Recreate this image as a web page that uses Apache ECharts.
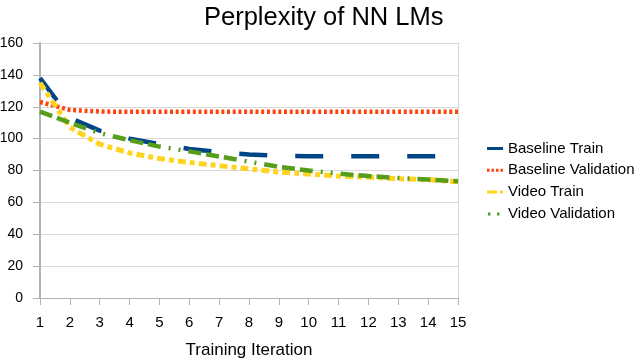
<!DOCTYPE html>
<html><head><meta charset="utf-8">
<script src="https://cdn.jsdelivr.net/npm/echarts@6/dist/echarts.min.js"></script>
<style>html,body{margin:0;padding:0;background:#fff}#c{width:640px;height:360px}</style>
</head><body><div id="c"></div>
<script>
const iterations = ['1','2','3','4','5','6','7','8','9','10','11','12','13','14','15'];
const baselineTrain = [138, 113, 105, 100, 96.5, 93.5, 91.5, 90, 89.3, 89, 89, 89, 89, 89, 89];
const baselineValidation = [123, 118, 117, 116.8, 116.8, 116.8, 116.8, 116.8, 116.8, 116.8, 116.8, 116.8, 116.8, 116.8, 116.8];
const videoTrain = [135, 107, 96.5, 91, 87.5, 85, 83, 81, 79, 77.8, 76.5, 75.8, 74.8, 74.2, 73];
const videoValidation = [117, 110, 103.5, 99, 95, 92, 88.8, 85.5, 82.3, 80, 78, 76.5, 75.3, 74.3, 73.2];
const seriesNames = ['Baseline Train', 'Baseline Validation', 'Video Train', 'Video Validation'];
const colors = ['#004586', '#ff420e', '#ffd320', '#579d1c'];

const chart = echarts.init(document.getElementById('c'), null, {renderer: 'canvas'});
const font = 'Liberation Sans, Arial, sans-serif';
function mk(name, data, color, type, width) {
  return {name, type: 'line', data, showSymbol: false, symbol: 'none', smooth: false,
    lineStyle: {color, width, type, cap: 'butt'}, itemStyle: {color}, animation: false};
}
const frame = 'M0,0L16,0M0,3L16,3';
const icons = [
  'path://M0,0H16V3H0Z',
  'path://' + frame + 'M0,0h2.5v3h-2.5zM4.5,0h2.5v3h-2.5zM9,0h2.5v3h-2.5zM13.5,0h2.5v3h-2.5z',
  'path://' + frame + 'M0,0h10v3h-10zM13,0h3v3h-3z',
  'path://' + frame + 'M1,0h2.5v3h-2.5zM10,0h2.5v3h-2.5z'
];
chart.setOption({
  animation: false,
  title: {text: 'Perplexity of NN LMs', left: 199, top: 0,
    textStyle: {fontFamily: font, fontSize: 25.5, fontWeight: 'normal', color: '#000'}},
  grid: {left: 40, right: 182, top: 43, bottom: 62, containLabel: false, outerBoundsMode: 'none'},
  legend: {orient: 'vertical', left: 482, top: 136, itemGap: 6.8, itemWidth: 16, itemHeight: 3,
    symbolKeepAspect: false,
    itemStyle: {borderWidth: 0},
    textStyle: {fontFamily: font, fontSize: 15, color: '#000'},
    data: seriesNames.map((n, i) => ({name: n, icon: icons[i], itemStyle: {color: colors[i], borderWidth: 0}}))},
  xAxis: {type: 'category', data: iterations, boundaryGap: false,
    name: 'Training Iteration', nameLocation: 'middle', nameGap: 44,
    nameTextStyle: {fontFamily: font, fontSize: 17, color: '#000'},
    axisLine: {lineStyle: {color: '#b3b3b3', width: 1}},
    axisTick: {show: true, alignWithLabel: true, length: 7, lineStyle: {color: '#b3b3b3'}},
    axisLabel: {fontFamily: font, fontSize: 15, color: '#000', margin: 17, interval: 0},
    splitLine: {show: false}},
  yAxis: [{type: 'value', min: 0, max: 160, interval: 20,
    axisLine: {show: true, lineStyle: {color: '#b3b3b3', width: 2}},
    axisTick: {show: true, length: 7, lineStyle: {color: '#b3b3b3'}},
    axisLabel: {fontFamily: font, fontSize: 14, color: '#000', margin: 17},
    splitLine: {lineStyle: {color: '#d9d9d9', width: 1}}},
    {type: 'value', min: 0, max: 160, interval: 20, position: 'right',
    axisLine: {show: true, lineStyle: {color: '#d9d9d9', width: 1}},
    axisTick: {show: false}, axisLabel: {show: false}, splitLine: {show: false}}],
  series: [
    mk(seriesNames[0], baselineTrain, colors[0], [28, 28], 4.5),
    mk(seriesNames[1], baselineValidation, colors[1], [3, 2.7], 4.5),
    mk(seriesNames[2], videoTrain, colors[2], [8, 4, 5, 4], 5),
    mk(seriesNames[3], videoValidation, colors[3], [13, 5, 13, 5, 13, 8, 2, 8, 2, 8], 4.5)
  ]
});
</script></body></html>
